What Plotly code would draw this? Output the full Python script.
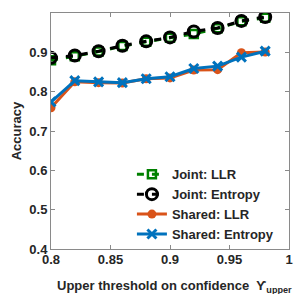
import plotly.graph_objects as go

thresholds = [0.80, 0.82, 0.84, 0.86, 0.88, 0.90, 0.92, 0.94, 0.96, 0.98]
joint_llr = [0.880, 0.890, 0.902, 0.916, 0.927, 0.937, 0.947, 0.961, 0.979, 0.988]
joint_entropy = [0.886, 0.892, 0.903, 0.917, 0.928, 0.938, 0.953, 0.962, 0.980, 0.990]
shared_llr = [0.759, 0.825, 0.823, 0.822, 0.833, 0.835, 0.855, 0.856, 0.899, 0.901]
shared_entropy = [0.774, 0.828, 0.825, 0.823, 0.833, 0.838, 0.859, 0.865, 0.888, 0.903]

x_ticks = [0.8, 0.85, 0.9, 0.95, 1.0]
x_ticklabels = ["0.8", "0.85", "0.9", "0.95", "1"]
y_ticks = [0.4, 0.5, 0.6, 0.7, 0.8, 0.9, 1.0]
y_ticklabels = ["0.4", "0.5", "0.6", "0.7", "0.8", "0.9", "1"]

GREEN = "#008000"
BLACK = "#000000"
ORANGE = "#D95319"
BLUE = "#0072BD"
TXT = "#262626"
FONT = dict(family="Liberation Sans", size=13, color=TXT, weight="bold")

fig = go.Figure()
fig.add_trace(go.Scatter(
    x=thresholds, y=joint_llr, name="Joint: LLR", mode="lines+markers",
    line=dict(color=GREEN, width=3, dash="7px,8px"),
    marker=dict(symbol="square-open", size=8, color=GREEN, line=dict(width=2.5, color=GREEN)),
))
fig.add_trace(go.Scatter(
    x=thresholds, y=joint_entropy, name="Joint: Entropy", mode="lines+markers",
    line=dict(color=BLACK, width=3, dash="7px,8px"),
    marker=dict(symbol="circle-open", size=11, color=BLACK, line=dict(width=3, color=BLACK)),
))
fig.add_trace(go.Scatter(
    x=thresholds, y=shared_llr, name="Shared: LLR", mode="lines+markers",
    line=dict(color=ORANGE, width=3),
    marker=dict(symbol="circle", size=9, color=ORANGE),
))
fig.add_trace(go.Scatter(
    x=thresholds, y=shared_entropy, name="Shared: Entropy", mode="lines+markers",
    line=dict(color=BLUE, width=3),
    marker=dict(symbol="x-thin", size=9, color=BLUE, line=dict(width=3, color=BLUE)),
))

axis_common = dict(
    showgrid=False, zeroline=False, showline=True, linecolor="#8a8a8a", linewidth=1,
    mirror="ticks", ticks="inside", ticklen=4, tickcolor="#8a8a8a",
    tickfont=FONT,
)
fig.update_xaxes(range=[0.8, 1.0], tickvals=x_ticks, ticktext=x_ticklabels,
                 ticklabelstandoff=-2, **axis_common)
fig.update_yaxes(range=[0.3999, 1.0001], tickvals=y_ticks, ticktext=y_ticklabels,
                 title=dict(text="Accuracy", standoff=4, font=FONT),
                 **axis_common)
fig.add_annotation(
    text="Upper threshold on confidence  ϒ<sub>upper</sub>",
    xref="paper", yref="paper", x=0.5, y=0, xanchor="center", yanchor="top",
    yshift=-27, xshift=4, showarrow=False, font=FONT,
)
fig.update_layout(
    width=304, height=294,
    margin=dict(l=43, r=23, t=5, b=53),
    paper_bgcolor="white", plot_bgcolor="white",
    font=FONT,
    legend=dict(x=0.34, y=0.38, xanchor="left", yanchor="top", bgcolor="rgba(0,0,0,0)",
                font=FONT, tracegroupgap=0, itemwidth=30),
)
fig.write_html("out.html")
